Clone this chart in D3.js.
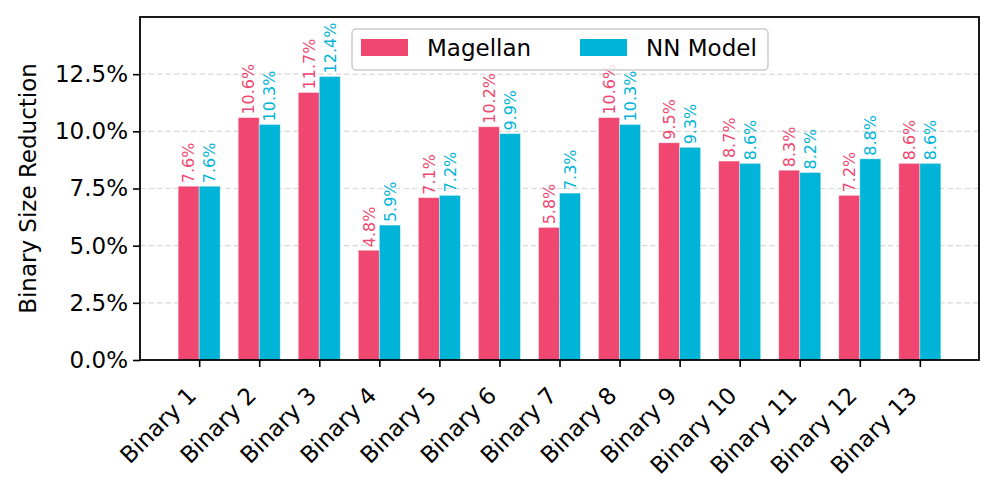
<!DOCTYPE html>
<html>
<meta charset="utf-8">
<style>
  body { margin: 0; background: #fff; }
  text { font-family: "DejaVu Sans", sans-serif; }
  .grid line { stroke: #d8d8d8; stroke-width: 1.1; stroke-dasharray: 5.5,3; }
</style>
<body>
<script src="https://cdn.jsdelivr.net/npm/d3@7"></script>
<script>
// chart data
var binaries = ["Binary 1", "Binary 2", "Binary 3", "Binary 4", "Binary 5", "Binary 6", "Binary 7",
                "Binary 8", "Binary 9", "Binary 10", "Binary 11", "Binary 12", "Binary 13"];
var magellan = [7.6, 10.6, 11.7, 4.8, 7.1, 10.2, 5.8, 10.6, 9.5, 8.7, 8.3, 7.2, 8.6];
var nnModel  = [7.6, 10.3, 12.4, 5.9, 7.2, 9.9, 7.3, 10.3, 9.3, 8.6, 8.2, 8.8, 8.6];
var yTicks = [0, 2.5, 5, 7.5, 10, 12.5];
var seriesNames = ["Magellan", "NN Model"];
var colors = ["#EF476F", "#00B4D8"];

var width = 997, height = 490;
var margin = {top: 17, right: 18, bottom: 130, left: 140};
var innerW = width - margin.left - margin.right,
    innerH = height - margin.top - margin.bottom;
var barW = 0.35;
var fs = 23;

var svg = d3.select("body").append("svg")
    .attr("width", width)
    .attr("height", height);

var g = svg.append("g")
    .attr("transform", "translate(" + margin.left + "," + margin.top + ")");

// matplotlib style x limits with 5% margin
var lo = -barW, hi = binaries.length - 1 + barW, pad = (hi - lo) * 0.05;
var x = d3.scaleLinear().domain([lo - pad, hi + pad]).range([0, innerW]);
var y = d3.scaleLinear().domain([0, 15]).range([innerH, 0]);

// grid
g.append("g").attr("class", "grid")
  .selectAll("line")
  .data(yTicks.slice(1))
  .enter().append("line")
    .attr("x1", 0).attr("x2", innerW)
    .attr("y1", function(d) { return y(d); })
    .attr("y2", function(d) { return y(d); });

var series = [magellan, nnModel];

series.forEach(function(vals, si) {
  var off = si === 0 ? -barW : 0;
  g.append("g").selectAll("rect")
    .data(vals)
    .enter().append("rect")
      .attr("x", function(d, i) { return x(i + off); })
      .attr("y", function(d) { return y(d); })
      .attr("width", x(barW) - x(0))
      .attr("height", function(d) { return y(0) - y(d); })
      .attr("fill", colors[si])
      .attr("stroke", "#fff")
      .attr("stroke-opacity", 0.5)
      .attr("stroke-width", 0.8);

  g.append("g").selectAll("text")
    .data(vals)
    .enter().append("text")
      .attr("transform", function(d, i) {
        return "translate(" + x(i + off + barW / 2) + "," + (y(d) - 3) + ") rotate(-90)";
      })
      .attr("dy", "0.36em")
      .attr("font-size", 16)
      .attr("fill", colors[si])
      .text(function(d) { return d.toFixed(1) + "%"; });
});

// axes
var yAxis = d3.axisLeft(y)
    .tickValues(yTicks)
    .tickSize(7)
    .tickPadding(5)
    .tickFormat(function(d) { return d.toFixed(1) + "%"; });
var yg = g.append("g").call(yAxis);
yg.select(".domain").remove();
yg.selectAll("line").attr("stroke", "#000").attr("stroke-width", 1.6);
yg.selectAll("text").attr("font-size", fs).attr("fill", "#000")
  .attr("font-family", "DejaVu Sans");

var xAxis = d3.axisBottom(x)
    .tickValues(d3.range(binaries.length))
    .tickSize(7)
    .tickFormat(function(i) { return binaries[i]; });
var xg = g.append("g").attr("transform", "translate(0," + innerH + ")").call(xAxis);
xg.select(".domain").remove();
xg.selectAll("line").attr("stroke", "#000").attr("stroke-width", 1.6);
xg.selectAll("text")
  .attr("font-size", fs)
  .attr("font-family", "DejaVu Sans")
  .attr("fill", "#000")
  .attr("text-anchor", "end")
  .attr("y", 0).attr("dy", 0)
  .attr("transform", "translate(-2,37) rotate(-45)");

// frame
g.append("rect")
  .attr("width", innerW).attr("height", innerH)
  .attr("fill", "none").attr("stroke", "#000").attr("stroke-width", 1.8);

// y label
svg.append("text")
  .attr("transform", "translate(36," + (margin.top + innerH / 2) + ") rotate(-90)")
  .attr("text-anchor", "middle")
  .attr("font-size", fs)
  .text("Binary Size Reduction");

// legend
var leg = svg.append("g").attr("transform", "translate(352,29)");
leg.append("rect")
  .attr("width", 416).attr("height", 41).attr("rx", 4)
  .attr("fill", "#fff").attr("fill-opacity", 0.8)
  .attr("stroke", "#ccc").attr("stroke-width", 1.5);
var items = leg.selectAll(".item").data(seriesNames).enter().append("g")
  .attr("transform", function(d, i) { return "translate(" + (9 + i * 219) + ",0)"; });
items.append("rect")
  .attr("y", 10).attr("width", 47).attr("height", 17)
  .attr("fill", function(d, i) { return colors[i]; });
items.append("text")
  .attr("x", 66).attr("y", 27)
  .attr("font-size", fs)
  .text(function(d) { return d; });
</script>
</body>
</html>
